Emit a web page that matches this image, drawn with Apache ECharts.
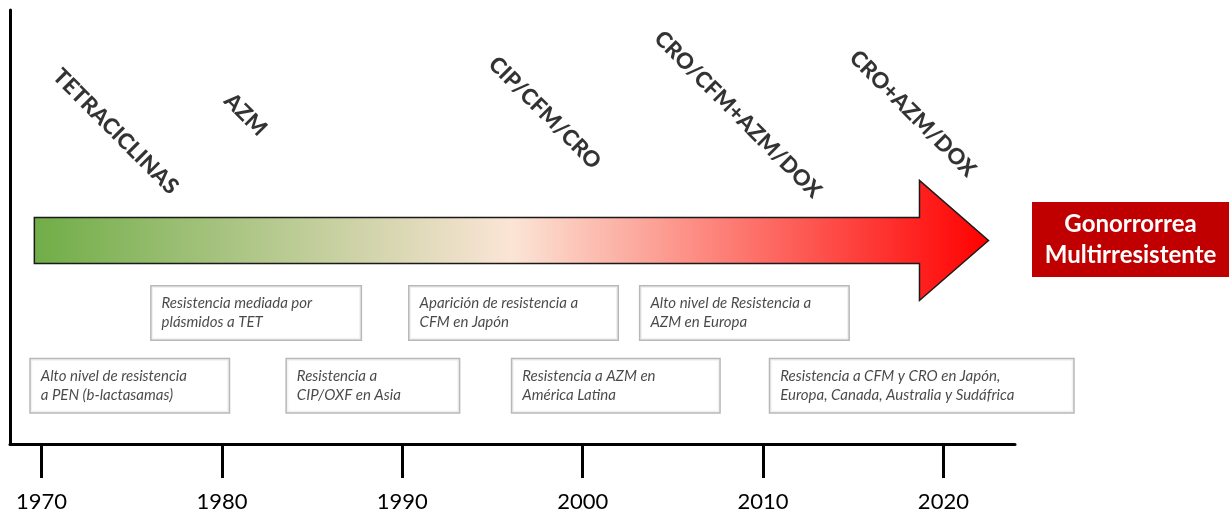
<!DOCTYPE html>
<html>
<head>
<meta charset="utf-8">
<script src="https://cdn.jsdelivr.net/npm/echarts@6/dist/echarts.min.js"></script>
<style>
html, body { margin: 0; padding: 0; background: #fff; }
#main { width: 1231px; height: 513px; }
</style>
</head>
<body>
<div id="main"></div>
<script>
// timeline data
var decades = [1970, 1980, 1990, 2000, 2010, 2020]

var drugs = ['TETRACICLINAS', 'AZM', 'CIP/CFM/CRO', 'CRO/CFM+AZM/DOX', 'CRO+AZM/DOX']
var drugYears = [1974.1, 1981.3, 1997.9, 2008.6, 2018.3]

var events = [
    'Resistencia mediada por\nplásmidos a TET',
    'Aparición de resistencia a\nCFM en Japón',
    'Alto nivel de Resistencia a\nAZM en Europa',
    'Alto nivel de resistencia\na PEN (b-lactasamas)',
    'Resistencia a\nCIP/OXF en Asia',
    'Resistencia a AZM en\nAmérica Latina',
    'Resistencia a CFM y CRO en Japón,\nEuropa, Canada, Australia y Sudáfrica'
]
var eventYears = [1976.1, 1990.4, 2003.2, 1969.4, 1983.6, 1996.1, 2010.4]
var eventRow = [1, 1, 1, 0, 0, 0, 0]

var arrowYears = [1969.6, 2022.5]
var outcome = 'Gonorrorrea\nMultirresistente'

// layout / styles
var rowLevel = [13.4, 30.2]
var drugLevel = [72, 75.9, 76.3, 75.9, 76.1]
var arrowLevel = 46.9
var boxW = [209, 208, 208, 198, 172, 207, 303]
var FONT = 'Lato, "Noto Sans", sans-serif'

var myChart = echarts.init(document.getElementById('main'))

var drugData = []
for (i = 0; i < drugs.length; i++) {
    drugData.push({ name: drugs[i], value: [drugYears[i], drugLevel[i]] })
}

var eventData = []
for (i = 0; i < events.length; i++) {
    eventData.push({
        name: events[i],
        value: [eventYears[i], rowLevel[eventRow[i]]],
        label: { width: boxW[i] - 21 }
    })
}

var arrowFill = new echarts.graphic.LinearGradient(0, 0, 1, 0, [
    { offset: 0, color: '#70AD47' },
    { offset: 0.5, color: '#FBE5D6' },
    { offset: 1, color: '#FF0000' }
])

option = {
    animation: false,
    grid: { left: 10, right: 216, top: 10, bottom: 68 },
    xAxis: {
        type: 'value',
        min: 1968.25,
        max: 2023.97,
        splitLine: { show: false },
        axisLine: { show: true, lineStyle: { color: '#000', width: 3 } },
        axisTick: { show: true, customValues: decades, length: 34, lineStyle: { color: '#000', width: 3 } },
        axisLabel: {
            customValues: decades, margin: 47, fontSize: 22, color: '#000',
            fontFamily: FONT,
            formatter: function (v) { return String(v) }
        }
    },
    yAxis: {
        type: 'value',
        min: 0,
        max: 100,
        splitLine: { show: false },
        axisTick: { show: false },
        axisLabel: { show: false },
        axisLine: { show: true, onZero: false, lineStyle: { color: '#000', width: 3 } }
    },
    graphic: [{
        type: 'group',
        left: 1032,
        top: 202,
        children: [{
            type: 'rect',
            shape: { x: 0, y: 0, width: 197, height: 75 },
            style: { fill: '#C00000' }
        }, {
            type: 'text',
            x: 98.5,
            y: 37.5,
            style: {
                text: outcome, fill: '#fff', align: 'center', verticalAlign: 'middle',
                font: 'bold 24px ' + FONT, lineHeight: 31
            }
        }]
    }],
    series: [
        {
            type: 'custom',
            data: [arrowYears],
            encode: { x: [0, 1] },
            renderItem: function (params, api) {
                var s = api.coord([api.value(0), arrowLevel])
                var e = api.coord([api.value(1), arrowLevel])
                var head = 69, bh = 23, hh = 60
                var cy = s[1]
                return {
                    type: 'polygon',
                    shape: {
                        points: [
                            [s[0], cy - bh], [e[0] - head, cy - bh], [e[0] - head, cy - hh],
                            [e[0], cy], [e[0] - head, cy + hh], [e[0] - head, cy + bh], [s[0], cy + bh]
                        ]
                    },
                    style: { fill: arrowFill, stroke: '#1a1a1a', lineWidth: 1.5 }
                }
            }
        },
        {
            type: 'scatter',
            symbolSize: 0,
            clip: false,
            data: drugData,
            label: {
                show: true,
                position: [0, 0],
                align: 'center',
                verticalAlign: 'middle',
                rotate: -45,
                formatter: '{b}',
                fontFamily: FONT,
                fontWeight: 900,
                fontSize: 22,
                color: '#000'
            }
        },
        {
            type: 'scatter',
            symbolSize: 0,
            clip: false,
            data: eventData,
            label: {
                show: true,
                position: [0, 0],
                align: 'left',
                verticalAlign: 'middle',
                formatter: '{b}',
                fontFamily: FONT,
                fontStyle: 'italic',
                fontSize: 15,
                lineHeight: 19,
                color: '#1a1a1a',
                backgroundColor: '#fff',
                borderColor: '#A6A6A6',
                borderWidth: 1.5,
                padding: [7, 11, 8, 10],
                overflow: 'none'
            }
        }
    ]
}
myChart.setOption(option)
</script>
</body>
</html>
